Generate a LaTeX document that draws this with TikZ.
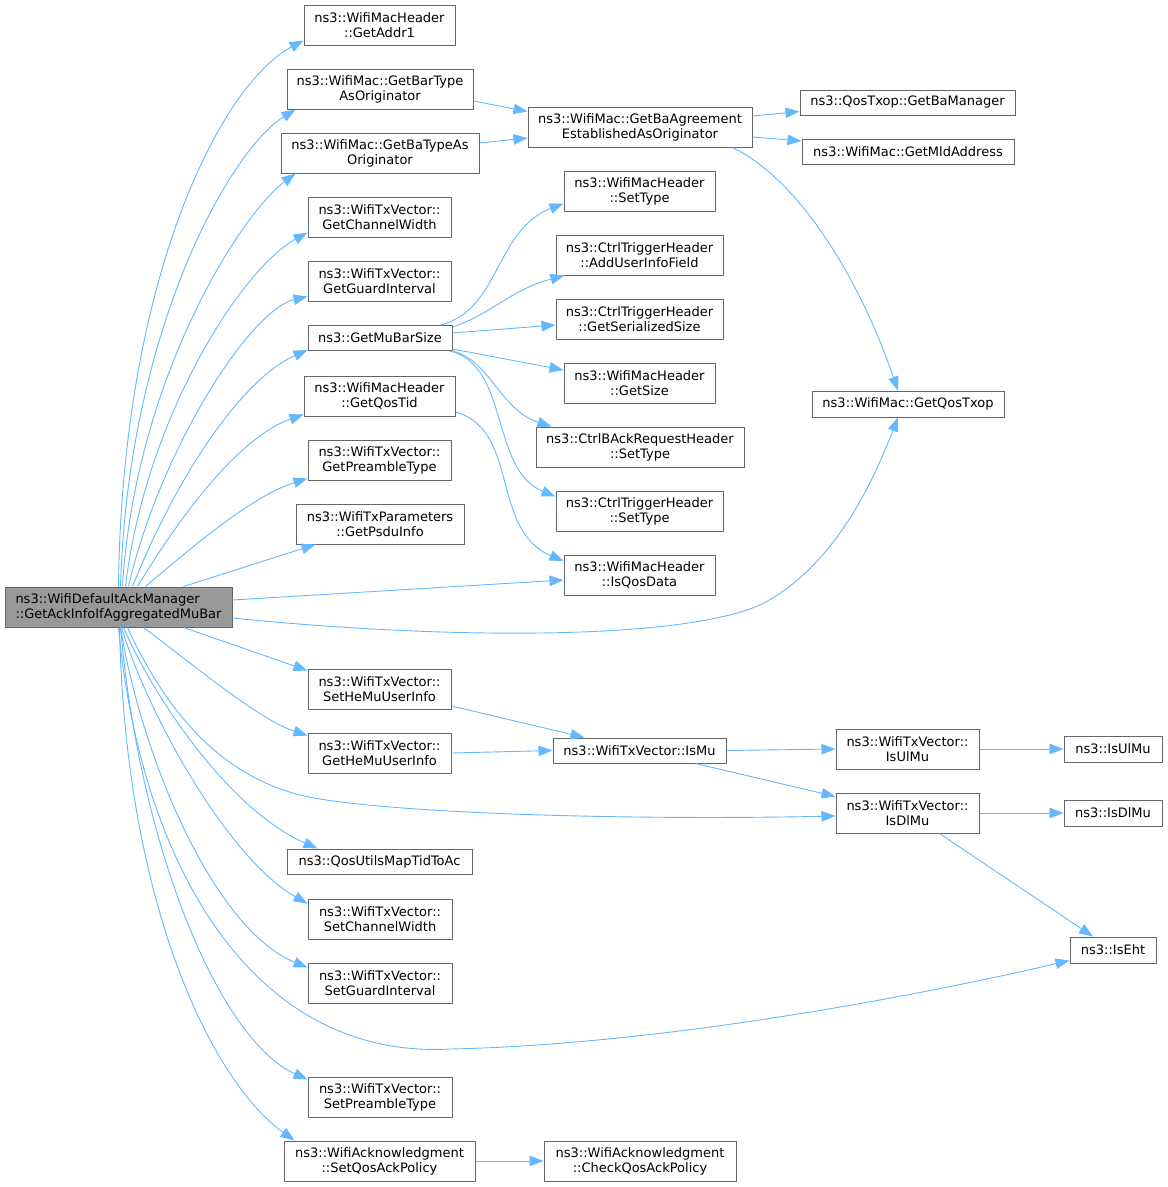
\documentclass[tikz,border=0pt]{standalone}
\usepackage{fontspec}
\setmainfont{DejaVu Sans}
\usetikzlibrary{arrows.meta}
\definecolor{edgeblue}{HTML}{63B8FF}
\definecolor{boxline}{HTML}{666666}
\definecolor{rootfill}{HTML}{999999}
\tikzset{
  fn/.style={draw=boxline, line width=1pt, fill=white, inner sep=0pt, align=center,
    minimum height=40pt, font=\fontsize{13}{15}\selectfont},
  one/.style={minimum height=25pt},
  call/.style={draw=edgeblue, line width=0.9pt, -{Triangle[length=14pt,width=10.5pt]}}
}
\begin{document}
\begin{tikzpicture}[x=1pt,y=-1pt]
            \useasboundingbox (0,0) rectangle (1168,1187);
            \node[fn, fill=rootfill, align=left, minimum width=227pt] (root) at (118.5,607) {ns3::WifiDefaultAckManager\\::GetAckInfoIfAggregatedMuBar};
            \node[fn, minimum width=151pt] (addr1) at (379.5,25) {ns3::WifiMacHeader\\::GetAddr1};
            \node[fn, minimum width=186pt] (barType) at (380,89) {ns3::WifiMac::GetBarType\\AsOriginator};
            \node[fn, minimum width=198pt] (baType) at (380,153) {ns3::WifiMac::GetBaTypeAs\\Originator};
            \node[fn, minimum width=143pt] (chanW) at (379.5,217) {ns3::WifiTxVector::\\GetChannelWidth};
            \node[fn, minimum width=143pt] (guard) at (379.5,281) {ns3::WifiTxVector::\\GetGuardInterval};
            \node[fn, one, minimum width=144pt] (muBar) at (380,338) {ns3::GetMuBarSize};
            \node[fn, minimum width=151pt] (qosTid) at (379.5,396) {ns3::WifiMacHeader\\::GetQosTid};
            \node[fn, minimum width=143pt] (preamble) at (379.5,460) {ns3::WifiTxVector::\\GetPreambleType};
            \node[fn, minimum width=168pt] (psdu) at (380,524) {ns3::WifiTxParameters\\::GetPsduInfo};
            \node[fn, minimum width=143pt] (setHeMu) at (379.5,689) {ns3::WifiTxVector::\\SetHeMuUserInfo};
            \node[fn, minimum width=143pt] (getHeMu) at (379.5,753) {ns3::WifiTxVector::\\GetHeMuUserInfo};
            \node[fn, one, minimum width=185pt] (mapTid) at (379.5,861.5) {ns3::QosUtilsMapTidToAc};
            \node[fn, minimum width=144pt] (setChanW) at (380,919) {ns3::WifiTxVector::\\SetChannelWidth};
            \node[fn, minimum width=144pt] (setGuard) at (380,983) {ns3::WifiTxVector::\\SetGuardInterval};
            \node[fn, minimum width=144pt] (setPreamble) at (380,1097) {ns3::WifiTxVector::\\SetPreambleType};
            \node[fn, minimum width=191pt] (setAck) at (379.5,1161) {ns3::WifiAcknowledgment\\::SetQosAckPolicy};
            \node[fn, minimum width=224pt] (baAgree) at (640,127) {ns3::WifiMac::GetBaAgreement\\EstablishedAsOriginator};
            \node[fn, one, minimum width=215pt] (baMgr) at (907.5,102.5) {ns3::QosTxop::GetBaManager};
            \node[fn, one, minimum width=212pt] (mld) at (908,152) {ns3::WifiMac::GetMldAddress};
            \node[fn, minimum width=151pt] (macSetType) at (639.5,191) {ns3::WifiMacHeader\\::SetType};
            \node[fn, minimum width=167pt] (addUser) at (639.5,255) {ns3::CtrlTriggerHeader\\::AddUserInfoField};
            \node[fn, minimum width=167pt] (serSize) at (639.5,319) {ns3::CtrlTriggerHeader\\::GetSerializedSize};
            \node[fn, minimum width=151pt] (getSize) at (639.5,383) {ns3::WifiMacHeader\\::GetSize};
            \node[fn, one, minimum width=192pt, minimum height=26pt] (qosTxop) at (908,404) {ns3::WifiMac::GetQosTxop};
            \node[fn, minimum width=208pt] (backSetType) at (640,447) {ns3::CtrlBAckRequestHeader\\::SetType};
            \node[fn, minimum width=167pt] (trigSetType) at (639.5,511) {ns3::CtrlTriggerHeader\\::SetType};
            \node[fn, minimum width=151pt] (isQosData) at (639.5,575) {ns3::WifiMacHeader\\::IsQosData};
            \node[fn, minimum width=192pt] (checkAck) at (640,1161) {ns3::WifiAcknowledgment\\::CheckQosAckPolicy};
            \node[fn, one, minimum width=173pt] (isMu) at (639.5,750.5) {ns3::WifiTxVector::IsMu};
            \node[fn, minimum width=143pt] (txUlMu) at (907.5,749) {ns3::WifiTxVector::\\IsUlMu};
            \node[fn, minimum width=143pt] (txDlMu) at (907.5,813) {ns3::WifiTxVector::\\IsDlMu};
            \node[fn, one, minimum width=98pt, minimum height=26pt] (isUlMu) at (1113,749) {ns3::IsUlMu};
            \node[fn, one, minimum width=98pt, minimum height=26pt] (isDlMu) at (1113,813) {ns3::IsDlMu};
            \node[fn, one, minimum width=86pt, minimum height=26pt] (isEht) at (1113,950) {ns3::IsEht};
            % calls made by the root
            \draw[call] (root.north) .. controls (122,280) and (220,85) .. ([yshift=5pt]addr1.south west);
            \draw[call] ([xshift=2pt]root.north) .. controls (128,330) and (230,150) .. ([xshift=9pt]barType.south west);
            \draw[call] ([xshift=4pt]root.north) .. controls (135,380) and (240,215) .. ([xshift=15pt]baType.south west);
            \draw[call] ([xshift=7pt]root.north) .. controls (145,420) and (240,270) .. ([yshift=5pt]chanW.south west);
            \draw[call] ([xshift=10pt]root.north) .. controls (160,450) and (250,310) .. ([yshift=5pt]guard.south west);
            \draw[call] ([xshift=14pt]root.north) .. controls (175,480) and (240,380) .. ([yshift=1pt]muBar.south west);
            \draw[call] ([xshift=19pt]root.north) .. controls (190,500) and (245,435) .. ([yshift=2pt]qosTid.south west);
            \draw[call] ([xshift=27pt]root.north) .. controls (200,540) and (255,495) .. ([yshift=2pt]preamble.south west);
            \draw[call] ([xshift=65pt]root.north) -- ([xshift=20pt]psdu.south west);
            \draw[call] ([yshift=7pt]root.east) -- ([yshift=-5pt]isQosData.west);
            \draw[call] ([yshift=-11pt]root.east) .. controls (450,640) and (680,640) .. (760,605) .. controls (830,570) and (870,490) .. ([xshift=-10pt]qosTxop.south);
            \draw[call] ([xshift=65pt]root.south) -- ([yshift=-2pt]setHeMu.north west);
            \draw[call] ([xshift=25pt]root.south) .. controls (200,670) and (260,720) .. ([yshift=-3pt]getHeMu.north west);
            \draw[call] ([xshift=9pt]root.south) .. controls (170,720) and (230,785) .. (320,799) .. controls (420,815) and (650,820) .. ([yshift=-3pt]txDlMu.west);
            \draw[call] ([xshift=5pt]root.south) .. controls (155,700) and (230,810) .. ([xshift=31pt]mapTid.north west);
            \draw[call] ([xshift=3pt]root.south) .. controls (150,720) and (230,860) .. ([yshift=-5pt]setChanW.north west);
            \draw[call] ([xshift=2pt]root.south) .. controls (142,760) and (215,930) .. ([yshift=-5pt]setGuard.north west);
            \draw[call] (root.south) .. controls (140,860) and (250,1060) .. (450,1049) .. controls (650,1045) and (900,1000) .. ([yshift=3pt]isEht.south west);
            \draw[call] ([xshift=2pt]root.south) .. controls (140,850) and (220,1040) .. ([yshift=-3pt]setPreamble.north west);
            \draw[call] ([xshift=1pt]root.south) .. controls (125,900) and (210,1080) .. ([xshift=11pt]setAck.north west);
            % second level
            \draw[call] ([yshift=-12pt]barType.east) -- ([yshift=-5pt]baAgree.north west);
            \draw[call] ([yshift=10pt]baType.east) -- ([yshift=-11pt]baAgree.west);
            \draw[call] ([yshift=11pt]baAgree.east) -- ([yshift=-9pt]baMgr.west);
            \draw[call] ([yshift=-10pt]baAgree.east) -- ([yshift=11pt]mld.west);
            \draw[call] ([xshift=-20pt]baAgree.south east) .. controls (800,180) and (860,280) .. ([xshift=-10pt]qosTxop.north);
            \draw[call] ([xshift=-12pt]muBar.north east) .. controls (500,310) and (495,230) .. ([yshift=8pt]macSetType.south west);
            \draw[call] ([yshift=-2pt]muBar.north east) .. controls (490,315) and (510,290) .. ([xshift=9pt]addUser.south west);
            \draw[call] ([yshift=5pt]muBar.east) -- ([yshift=-6pt]serSize.west);
            \draw[call] ([yshift=2pt]muBar.south east) -- ([yshift=13pt]getSize.west);
            \draw[call] (muBar.south east) .. controls (490,360) and (500,410) .. ([xshift=16pt]backSetType.north west);
            \draw[call] ([xshift=-3pt]muBar.south east) .. controls (510,365) and (490,470) .. ([yshift=-6pt]trigSetType.north west);
            \draw[call] ([yshift=-16pt]qosTid.east) .. controls (520,430) and (490,530) .. ([yshift=14pt]isQosData.west);
            \draw[call] ([yshift=-17pt]setHeMu.east) -- ([xshift=32pt]isMu.north west);
            \draw[call] (getHeMu.east) -- (isMu.west);
            \draw[call] (isMu.east) -- (txUlMu.west);
            \draw[call] ([xshift=-31pt]isMu.south east) -- ([yshift=-4pt]txDlMu.north west);
            \draw[call] (txUlMu.east) -- (isUlMu.west);
            \draw[call] (txDlMu.east) -- (isDlMu.west);
            \draw[call] ([xshift=-40pt]txDlMu.south east) -- ([xshift=-20pt]isEht.north);
            \draw[call] (setAck.east) -- (checkAck.west);
        \end{tikzpicture}
\end{document}
